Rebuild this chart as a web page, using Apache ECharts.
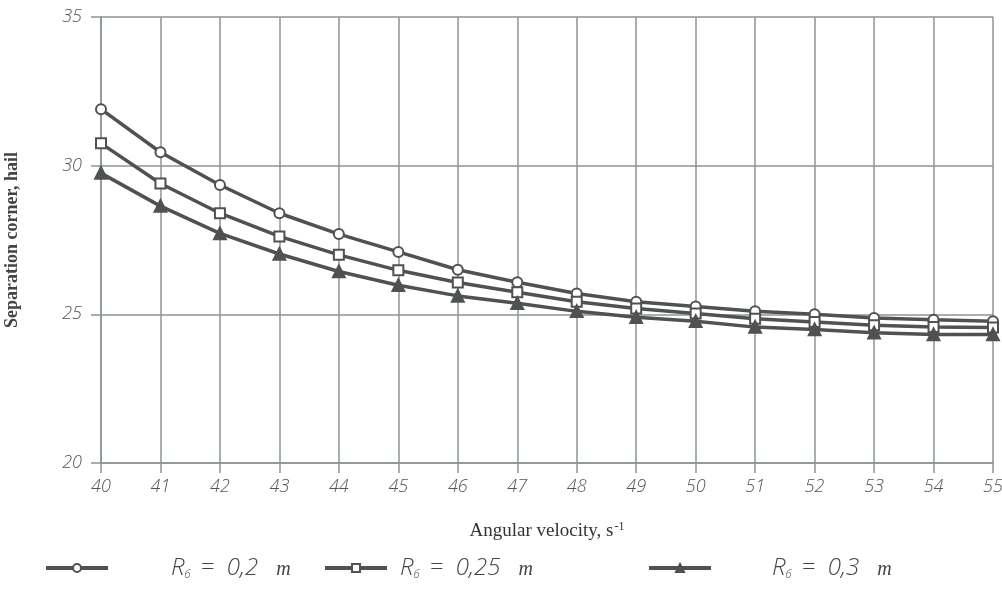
<!DOCTYPE html>
<html>
<head>
<meta charset="utf-8">
<script src="https://cdn.jsdelivr.net/npm/echarts@6/dist/echarts.min.js"></script>
<style>
  html, body { margin: 0; padding: 0; background: #fff; }
  #chartBox { width: 1002px; height: 601px; }
</style>
</head>
<body>
<div id="chartBox"></div>
<script>
// angular velocity, s-1
const speeds = [40, 41, 42, 43, 44, 45, 46, 47, 48, 49, 50, 51, 52, 53, 54, 55];
// separation corner for each drum radius
const r020 = [31.9, 30.45, 29.35, 28.4, 27.7, 27.1, 26.5, 26.08, 25.7, 25.42, 25.26, 25.1, 25.0, 24.88, 24.82, 24.77];
const r025 = [30.75, 29.4, 28.4, 27.62, 27.0, 26.48, 26.07, 25.74, 25.42, 25.2, 25.03, 24.85, 24.74, 24.63, 24.57, 24.56];
const r030 = [29.75, 28.64, 27.72, 27.03, 26.44, 25.98, 25.62, 25.37, 25.1, 24.9, 24.77, 24.57, 24.49, 24.38, 24.32, 24.32];
const seriesNames = ['r020', 'r025', 'r030'];
const legendTexts = ['0,2', '0,25', '0,3'];

const lineColor = '#4f5152';
const gridColor = '#8c9596';
const tickFont = 'Open Sans';

const chartDom = document.getElementById('chartBox');
const myChart = echarts.init(chartDom);

function pairs(vals) {
    return vals.map((v, i) => [speeds[i], v]);
}

function makeSeries(name, vals, symbol, size) {
    return {
        name: name,
        type: 'line',
        data: pairs(vals),
        symbol: symbol,
        symbolSize: size,
        showSymbol: true,
        lineStyle: { width: 3.5, color: lineColor },
        itemStyle: { color: lineColor, borderColor: lineColor, borderWidth: 2.5 },
        emphasis: { disabled: true }
    };
}

const legendRich = {
    r: { fontFamily: tickFont, fontStyle: 'italic', fontWeight: 300, fontSize: 24, color: '#444' },
    sub: { fontFamily: tickFont, fontStyle: 'italic', fontWeight: 300, fontSize: 11, color: '#444', verticalAlign: 'bottom', padding: [12, 0, 0, 0] },
    t: { fontFamily: tickFont, fontStyle: 'italic', fontWeight: 300, fontSize: 24, color: '#444', padding: [0, 0, 0, 10] },
    m: { fontFamily: 'Liberation Serif', fontStyle: 'italic', fontSize: 20, color: '#444', padding: [4, 0, 0, 18] }
};

function makeLegend(idx, left, gap) {
    return {
        data: [seriesNames[idx]],
        left: left,
        top: 556,
        itemWidth: 62,
        itemHeight: 10,
        itemGap: 0,
        padding: 0,
        lineStyle: { width: 4, color: lineColor },
        textStyle: { padding: [0, 0, 0, gap], rich: legendRich },
        formatter: function () {
            return '{r|R}{sub|б}{t|=  ' + legendTexts[idx] + '}{m|m}';
        }
    };
}

const option = {
    animation: false,
    backgroundColor: '#ffffff',
    grid: { left: 101, right: 9, top: 17, bottom: 138, outerBoundsMode: 'none' },
    legend: [
        makeLegend(0, 44, 58),
        makeLegend(1, 323, 8),
        makeLegend(2, 647, 56)
    ],
    xAxis: {
        type: 'value',
        min: 40,
        max: 55,
        interval: 1,
        name: 'Angular velocity, s{sup|-1}',
        nameLocation: 'middle',
        nameGap: 58,
        nameTextStyle: {
            fontFamily: 'Liberation Serif',
            fontSize: 19,
            color: '#333',
            rich: {
                sup: { fontFamily: 'Liberation Serif', fontSize: 12, color: '#333', verticalAlign: 'top', padding: [0, 0, 8, 1] }
            }
        },
        axisLine: { show: true, lineStyle: { color: gridColor, width: 1.5 } },
        axisTick: { show: true, length: 10, lineStyle: { color: gridColor, width: 1.5 } },
        axisLabel: {
            fontFamily: tickFont,
            fontStyle: 'italic',
            fontWeight: 300,
            fontSize: 18,
            color: '#555',
            margin: 15
        },
        splitLine: { show: true, lineStyle: { color: gridColor, width: 1.5 } }
    },
    yAxis: {
        type: 'value',
        min: 20,
        max: 35,
        interval: 5,
        name: 'Separation corner, hail',
        nameLocation: 'middle',
        nameGap: 80,
        nameTextStyle: {
            fontFamily: 'Liberation Serif',
            fontWeight: 'bold',
            fontSize: 18,
            color: '#444'
        },
        axisLine: { show: true, lineStyle: { color: gridColor, width: 1.5 } },
        axisTick: { show: true, length: 10, lineStyle: { color: gridColor, width: 1.5 } },
        axisLabel: {
            fontFamily: tickFont,
            fontStyle: 'italic',
            fontWeight: 300,
            fontSize: 18,
            color: '#555',
            margin: 19
        },
        splitLine: { show: true, lineStyle: { color: gridColor, width: 1.5 } }
    },
    series: [
        makeSeries(seriesNames[0], r020, 'emptyCircle', 10),
        makeSeries(seriesNames[1], r025, 'emptyRect', 10),
        makeSeries(seriesNames[2], r030, 'triangle', 11)
    ]
};

myChart.setOption(option);
</script>
</body>
</html>
